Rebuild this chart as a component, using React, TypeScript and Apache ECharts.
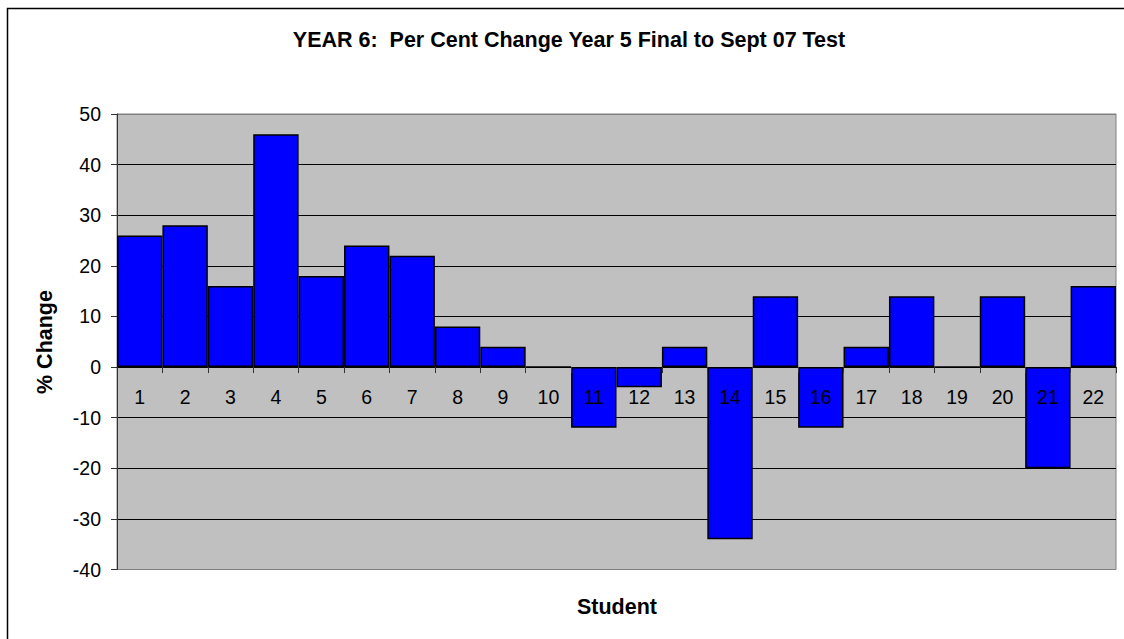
import React, { useEffect, useRef } from "react";
import * as echarts from "echarts";

const students = ["1","2","3","4","5","6","7","8","9","10","11","12","13","14","15","16","17","18","19","20","21","22"];
const percentChange = [26, 28, 16, 46, 18, 24, 22, 8, 4, 0, -12, -4, 4, -34, 14, -12, 4, 14, 0, 14, -20, 16];
const chartTitle = "YEAR 6:  Per Cent Change Year 5 Final to Sept 07 Test";
const yAxisTitle = "% Change";
const xAxisTitle = "Student";
const yMin = -40;
const yMax = 50;

const FONT = 'Arial, "Liberation Sans", sans-serif';

const GRID_TOP = 114;
const GRID_BOTTOM_Y = 569.5;
const zeroY = GRID_TOP + ((GRID_BOTTOM_Y - GRID_TOP) * yMax) / (yMax - yMin);

export default function App() {
  const ref = useRef<HTMLDivElement>(null);
  useEffect(() => {
    if (!ref.current) return;
    const chart = echarts.init(ref.current, null, { renderer: "svg" });
    chart.setOption({
      animation: false,
      backgroundColor: "#ffffff",
      grid: {
        left: 117,
        top: GRID_TOP,
        right: 8,
        bottom: 639 - GRID_BOTTOM_Y,
        show: true,
        backgroundColor: "#c0c0c0",
        borderColor: "#808080",
        borderWidth: 1,
      },
      xAxis: {
        type: "category",
        data: students,
        boundaryGap: true,
        position: "bottom",
        offset: -(GRID_BOTTOM_Y - zeroY),
        z: 10,
        axisLine: { onZero: false, lineStyle: { color: "#000", width: 1 } },
        axisTick: { show: true, length: 6, alignWithLabel: false, lineStyle: { color: "#333" } },
        axisLabel: { color: "#000", fontSize: 19.5, fontFamily: FONT, margin: 20, interval: 0 },
        splitLine: { show: false },
      },
      yAxis: {
        type: "value",
        min: yMin,
        max: yMax,
        interval: 10,
        axisLine: { show: true, onZero: false, lineStyle: { color: "#333", width: 1 } },
        axisTick: { show: true, length: 6, lineStyle: { color: "#333" } },
        axisLabel: { color: "#000", fontSize: 19.5, fontFamily: FONT, margin: 16 },
        splitLine: {
          show: true,
          lineStyle: {
            color: ["#808080", "#000", "#000", "#000", "#000", "#000", "#000", "#000", "#000", "#808080"],
            width: 1,
          },
        },
      },
      series: [
        {
          type: "bar",
          data: percentChange,
          barCategoryGap: "0%",
          itemStyle: { color: "#0000ff", borderColor: "#000", borderWidth: 1.5 },
        },
      ],
      graphic: [
        {
          type: "rect",
          shape: { x: 7.5, y: 8.5, width: 1140, height: 660 },
          style: { fill: "none", stroke: "#000", lineWidth: 1.5 },
          silent: true,
        },
        {
          type: "text",
          x: 569,
          y: 40,
          style: {
            text: chartTitle,
            font: `bold 21.5px ${FONT}`,
            fill: "#000",
            textAlign: "center",
            textVerticalAlign: "middle",
          },
        },
        {
          type: "text",
          x: 45,
          y: 342,
          rotation: Math.PI / 2,
          style: {
            text: yAxisTitle,
            font: `bold 21.5px ${FONT}`,
            fill: "#000",
            textAlign: "center",
            textVerticalAlign: "middle",
          },
        },
        {
          type: "text",
          x: 617,
          y: 607,
          style: {
            text: xAxisTitle,
            font: `bold 21.5px ${FONT}`,
            fill: "#000",
            textAlign: "center",
            textVerticalAlign: "middle",
          },
        },
      ],
    });
    return () => chart.dispose();
  }, []);
  return (
    <div
      ref={ref}
      style={{ position: "absolute", left: 0, top: 0, width: 1124, height: 639 }}
    />
  );
}
